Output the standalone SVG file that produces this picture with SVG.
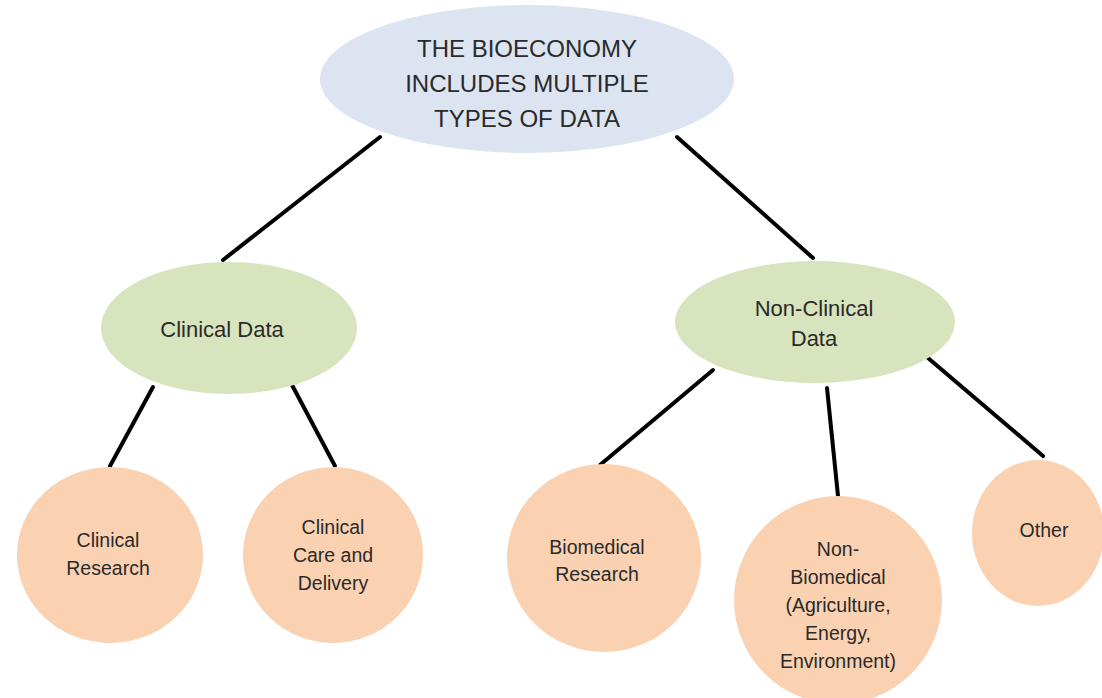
<svg xmlns="http://www.w3.org/2000/svg" width="1102" height="698" viewBox="0 0 1102 698">
<style>
.bg{fill:#ffffff}
.conn line{stroke:#000000;stroke-width:4;stroke-linecap:round}
.top{fill:#dde4f1}
.mid{fill:#d8e4bd}
.leaf{fill:#fad2b2}
text{font-family:"Liberation Sans",Arial,sans-serif;fill:#2a2a2a;text-anchor:middle;dominant-baseline:central}
.t1{font-size:24px}
.t2{font-size:22px}
.t3{font-size:19.5px}
</style>
<rect class="bg" x="0" y="0" width="1102" height="698"/>
<g id="connectors" class="conn">
<line x1="380" y1="137" x2="223" y2="260"/>
<line x1="677" y1="137" x2="813" y2="258"/>
<line x1="153" y1="387" x2="110" y2="466"/>
<line x1="292" y1="385" x2="335" y2="466"/>
<line x1="713" y1="370" x2="600" y2="465"/>
<line x1="827" y1="388" x2="838" y2="496"/>
<line x1="928" y1="358" x2="1043" y2="456"/>
</g>
<g id="root">
<ellipse class="top" cx="527" cy="79" rx="207" ry="74"/>
<text class="t1" x="527" y="48">THE BIOECONOMY</text>
<text class="t1" x="527" y="83">INCLUDES MULTIPLE</text>
<text class="t1" x="527" y="118">TYPES OF DATA</text>
</g>
<g id="clinical-data">
<ellipse class="mid" cx="229" cy="328" rx="128" ry="66"/>
<text class="t2" x="222" y="329">Clinical Data</text>
</g>
<g id="non-clinical-data">
<ellipse class="mid" cx="815" cy="322" rx="140" ry="61"/>
<text class="t2" x="814" y="308">Non-Clinical</text>
<text class="t2" x="814" y="338">Data</text>
</g>
<g id="clinical-research">
<ellipse class="leaf" cx="110" cy="555" rx="93" ry="88"/>
<text class="t3" x="108" y="540">Clinical</text>
<text class="t3" x="108" y="568">Research</text>
</g>
<g id="clinical-care">
<ellipse class="leaf" cx="333" cy="555" rx="90" ry="88"/>
<text class="t3" x="333" y="527">Clinical</text>
<text class="t3" x="333" y="555">Care and</text>
<text class="t3" x="333" y="583">Delivery</text>
</g>
<g id="biomedical-research">
<ellipse class="leaf" cx="604" cy="558" rx="97" ry="94"/>
<text class="t3" x="597" y="547">Biomedical</text>
<text class="t3" x="597" y="574">Research</text>
</g>
<g id="non-biomedical">
<ellipse class="leaf" cx="838" cy="600" rx="104" ry="104"/>
<text class="t3" x="838" y="549">Non-</text>
<text class="t3" x="838" y="577">Biomedical</text>
<text class="t3" x="838" y="605">(Agriculture,</text>
<text class="t3" x="838" y="633">Energy,</text>
<text class="t3" x="838" y="661">Environment)</text>
</g>
<g id="other">
<ellipse class="leaf" cx="1038" cy="533" rx="66" ry="73"/>
<text class="t3" x="1044" y="530">Other</text>
</g>
</svg>
